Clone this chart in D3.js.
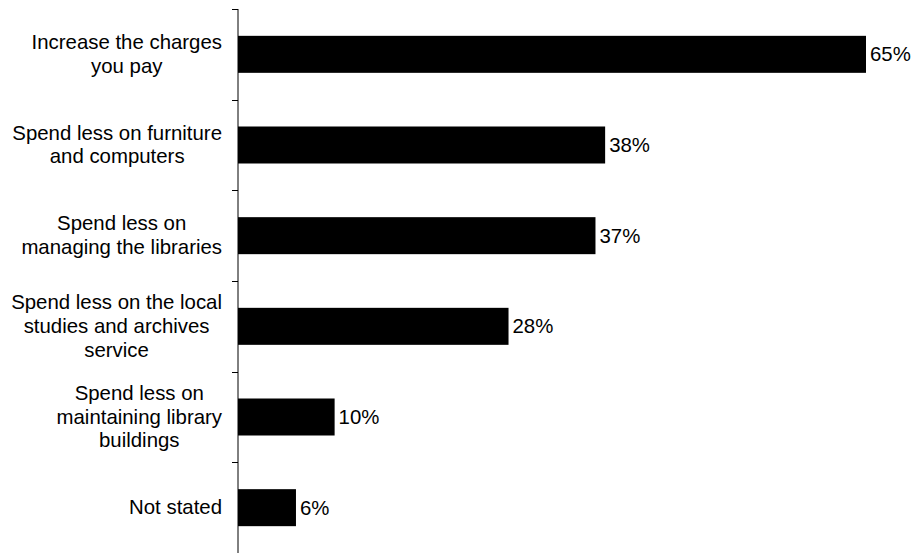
<!DOCTYPE html>
<html>
<head>
<meta charset="utf-8">
<script src="https://cdn.jsdelivr.net/npm/d3@7"></script>
<style>
  html, body { margin: 0; padding: 0; background: #fff; }
  svg { display: block; }
  text { font-family: "Liberation Sans", Arial, sans-serif; fill: #000; }
</style>
</head>
<body>
<svg id="chart" width="915" height="553"></svg>
<script>
// Category labels (one entry per line of each wrapped label)
const categories = [
  ["Increase the charges", "you pay"],
  ["Spend less on furniture", "and computers"],
  ["Spend less on", "managing the libraries"],
  ["Spend less on the local", "studies and archives", "service"],
  ["Spend less on", "maintaining library", "buildings"],
  ["Not stated"]
];
const values = [65, 38, 37, 28, 10, 6];
const valueLabels = ["65%", "38%", "37%", "28%", "10%", "6%"];

const svg = d3.select("#chart");
const axisX = 238;
const plotTop = 9, plotBottom = 553;
const fontSize = 20.4, lineHeight = 23.7;
const labelRight = 222;

const x = d3.scaleLinear().domain([0, 65]).range([axisX, 866]);
const y = d3.scaleBand()
  .domain(d3.range(categories.length))
  .range([plotTop, plotBottom])
  .paddingInner(0)
  .paddingOuter(0);
const barH = 37;

// Bars
svg.append("g").selectAll("rect")
  .data(values)
  .join("rect")
  .attr("x", axisX)
  .attr("y", (d, i) => y(i) + y.bandwidth() / 2 - barH / 2)
  .attr("width", d => x(d) - axisX)
  .attr("height", barH)
  .attr("fill", "#000");

// Category axis line with tick marks at band boundaries
const g = svg.append("g");
g.append("line")
  .attr("x1", axisX).attr("x2", axisX)
  .attr("y1", plotTop).attr("y2", plotBottom)
  .attr("stroke", "#000").attr("stroke-width", 1);
const tickPos = d3.range(categories.length + 1).map(i => plotTop + i * y.bandwidth());
g.selectAll(".tick")
  .data(tickPos)
  .join("line")
  .attr("class", "tick")
  .attr("x1", axisX - 6).attr("x2", axisX)
  .attr("y1", d => Math.round(d) + 0.5).attr("y2", d => Math.round(d) + 0.5)
  .attr("stroke", "#000").attr("stroke-width", 1);

// Category labels: each block right-aligned, lines centred within the block
const labels = svg.append("g");
categories.forEach((lines, i) => {
  const cy = y(i) + y.bandwidth() / 2;
  const t = labels.append("text")
    .attr("font-size", fontSize)
    .attr("text-anchor", "middle");
  lines.forEach((ln, k) => {
    t.append("tspan")
      .attr("y", cy - (lines.length - 1) * lineHeight / 2 + k * lineHeight)
      .attr("dy", "0.32em")
      .text(ln);
  });
  let maxW = 0;
  t.selectAll("tspan").each(function () {
    maxW = Math.max(maxW, this.getComputedTextLength());
  });
  t.selectAll("tspan").attr("x", labelRight - maxW / 2);
});

// Value labels at the end of each bar
svg.append("g").selectAll("text")
  .data(values)
  .join("text")
  .attr("x", d => x(d) + 4)
  .attr("y", (d, i) => y(i) + y.bandwidth() / 2)
  .attr("dy", "0.35em")
  .attr("font-size", fontSize)
  .text((d, i) => valueLabels[i]);
</script>
</body>
</html>
